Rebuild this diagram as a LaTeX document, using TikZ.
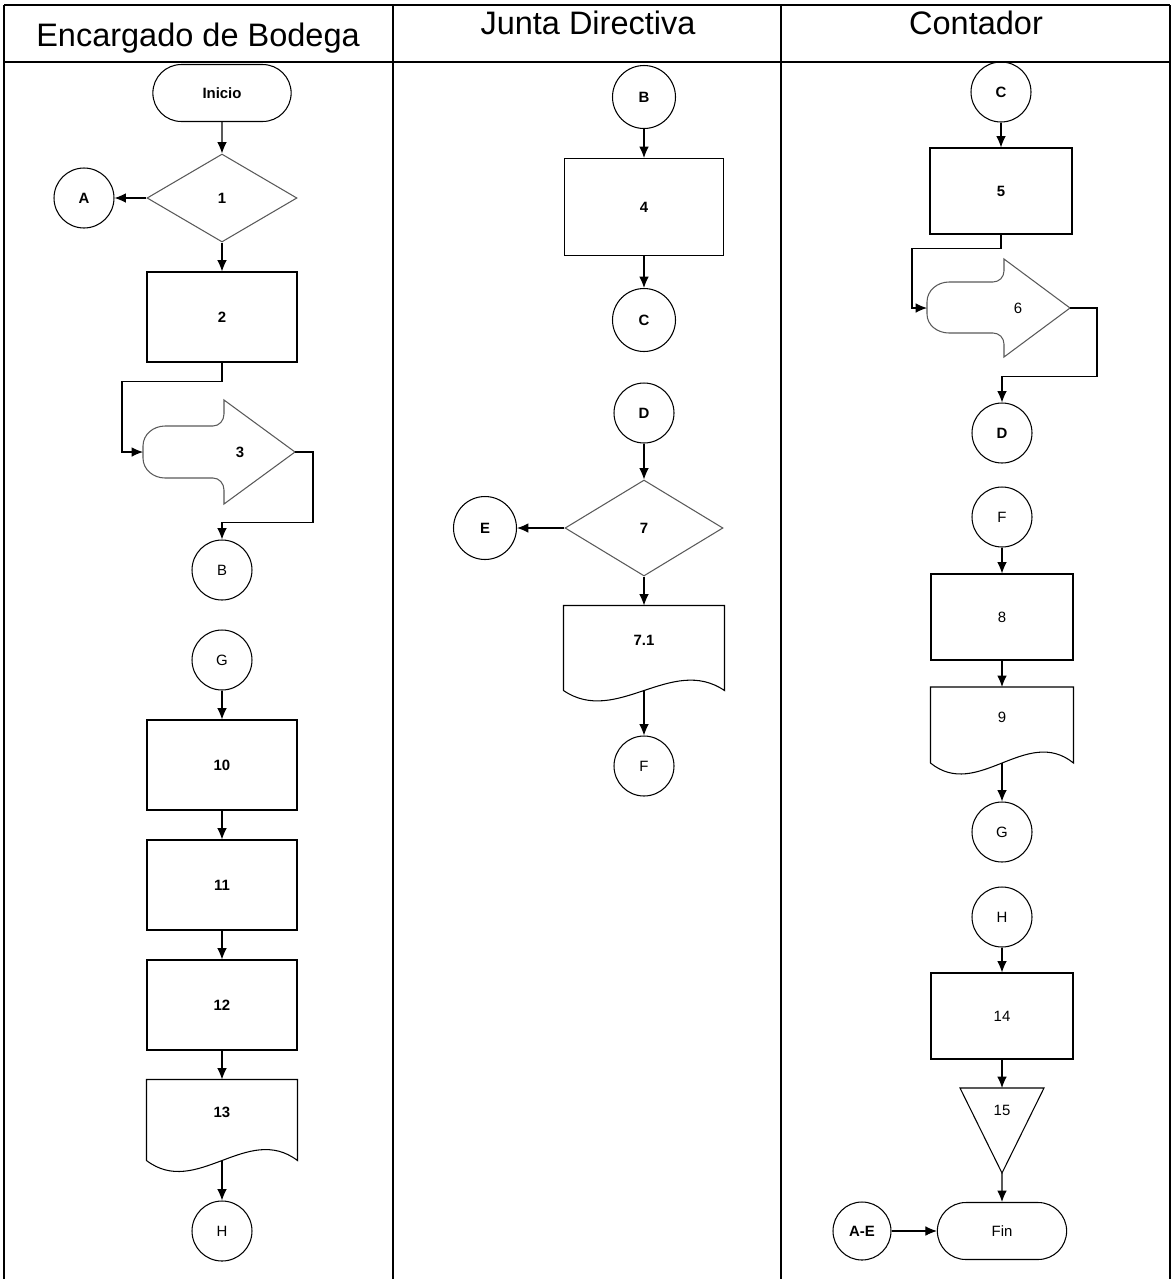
\documentclass[tikz,border=0pt]{standalone}
\usepackage{fontspec}
\setmainfont{Liberation Sans}
\usetikzlibrary{shapes.geometric,shapes.misc,arrows.meta,calc}

\begin{document}
\begin{tikzpicture}[x=0.02cm, y=-0.02cm, font=\fontsize{8.5}{10}\selectfont\bfseries,
          >={Latex[length=6.5pt,width=5.5pt]}, line width=0.6pt,
          lane/.style={line width=1.1pt},
          hdr/.style={font=\fontsize{18.5}{22}\selectfont, anchor=base},
          lt/.style={font=\fontsize{8.5}{10}\selectfont},
          con/.style={draw, circle, minimum size=1.2cm, inner sep=0pt},
          term/.style={draw, rounded rectangle, minimum width=3cm, minimum height=1.14cm},
          proc/.style={draw, minimum width=3cm, minimum height=1.8cm},
          procc/.style={draw, minimum width=2.84cm, minimum height=1.72cm},
          dec/.style={draw=black!65, diamond, minimum width=3cm, minimum height=1.76cm, inner sep=0pt},
          doc/.style={minimum width=3cm, minimum height=1.6cm, text depth=0.3cm},
          shp/.style={draw=black!65}]
        \useasboundingbox (0,0) rectangle (1174,1279);

        % swimlanes
        \draw[lane] (4,5) -- (1170,5) (4,62) -- (1170,62);
        \draw[lane] (4,5) -- (4,1279) (393,5) -- (393,1279) (781,5) -- (781,1279) (1170,5) -- (1170,1279);
        \node[hdr] (hbod) at (198,46) {Encargado de Bodega};
        \node[hdr] (hjun) at (588,34) {Junta Directiva};
        \node[hdr] (hcon) at (976,34) {Contador};

        % Encargado de Bodega
        \node[term] (ini) at (222,93) {Inicio};
        \node[dec] (d1) at (222,198) {1};
        \node[con] (a1) at (84,198) {A};
        \node[proc] (r2) at (222,317) {2};
        \node (t3) at (240,452) {3};
        \coordinate (t3in) at (143,452);
        \coordinate (t3out) at (295,452);
        \draw[shp] (143,452) -- (143,446) to[out=90,in=180] (165,426) -- (213,426) to[out=0,in=-90] (224,414)
          -- (224,400) -- (295,452) -- (224,504) -- (224,490) to[out=90,in=0] (213,478) -- (165,478)
          to[out=180,in=-90] (143,458) -- cycle;
        \node[con, lt] (b1) at (222,570) {B};
        \node[con, lt] (g1) at (222,660) {G};
        \node[proc] (r10) at (222,765) {10};
        \node[proc] (r11) at (222,885) {11};
        \node[proc] (r12) at (222,1005) {12};
        \node[doc] (t13) at (222,1120) {13};
        \draw (t13.south west) -- (t13.north west) -- (t13.north east) -- (t13.south east)
          .. controls ($(t13.south east)+(-50,-38)$) and ($(t13.south west)+(50,38)$) .. (t13.south west);
        \node[con, lt] (h1) at (222,1231) {H};

        \draw[->] (ini) -- (d1);
        \draw[->] (d1.west) -- (a1);
        \draw[->] (d1) -- (r2);
        \draw[->] (r2.south) -- ++(0,19) -| ($(t3in)+(-21,0)$) -- (t3in);
        \draw[->] (t3out) -- ++(18,0) |- ($(b1.north)+(0,-17)$) -- (b1.north);
        \draw[->] (g1) -- (r10);
        \draw[->] (r10) -- (r11);
        \draw[->] (r11) -- (r12);
        \draw[->] (r12.south) -- (t13.north);
        \draw[->] (t13.south) -- (h1);

        % Junta Directiva
        \node[con, minimum size=1.26cm] (b2) at (644,97) {B};
        \node[proc, minimum width=3.18cm, minimum height=1.94cm] (r4) at (644,207) {4};
        \node[con, minimum size=1.26cm] (c2) at (644,320) {C};
        \node[con] (d2) at (644,413) {D};
        \node[dec, minimum width=3.16cm, minimum height=1.92cm] (d7) at (644,528) {7};
        \node[con, minimum size=1.26cm] (e2) at (485,528) {E};
        \node[doc, minimum width=3.2cm, minimum height=1.68cm] (t71) at (644,648) {7.1};
        \draw (t71.south west) -- (t71.north west) -- (t71.north east) -- (t71.south east)
          .. controls ($(t71.south east)+(-53,-36)$) and ($(t71.south west)+(53,36)$) .. (t71.south west);
        \node[con, lt] (f2) at (644,766) {F};

        \draw[->] (b2) -- (r4);
        \draw[->] (r4) -- (c2);
        \draw[->] (d2) -- (d7);
        \draw[->] (d7.west) -- (e2);
        \draw[->] (d7) -- (t71.north);
        \draw[->] (t71.south) -- (f2);

        % Contador
        \node[con] (c3) at (1001,92) {C};
        \node[procc] (r5) at (1001,191) {5};
        \node[lt] (t6) at (1018,308) {6};
        \coordinate (t6in) at (927,308);
        \coordinate (t6out) at (1070,308);
        \draw[shp] (927,308) -- (927,302) to[out=90,in=180] (949,282) -- (993,282) to[out=0,in=-90] (1004,271)
          -- (1004,259) -- (1070,308) -- (1004,357) -- (1004,344) to[out=90,in=0] (993,333) -- (949,333)
          to[out=180,in=-90] (927,314) -- cycle;
        \node[con] (d3) at (1002,433) {D};
        \node[con, lt] (f3) at (1002,517) {F};
        \node[procc, lt] (r8) at (1002,617) {8};
        \node[doc, lt, minimum width=2.84cm, minimum height=1.5cm] (t9) at (1002,725) {9};
        \draw (t9.south west) -- (t9.north west) -- (t9.north east) -- (t9.south east)
          .. controls ($(t9.south east)+(-47,-38)$) and ($(t9.south west)+(47,38)$) .. (t9.south west);
        \node[con, lt] (g3) at (1002,832) {G};
        \node[con, lt] (h3) at (1002,917) {H};
        \node[procc, lt] (r14) at (1002,1016) {14};
        \node[lt] (t15) at (1002,1110) {15};
        \coordinate (tri15top) at (1002,1088);
        \coordinate (tri15bot) at (1002,1173);
        \draw (960,1088) -- (1044,1088) -- (tri15bot) -- cycle;
        \node[term, lt, minimum width=2.82cm] (fin) at (1002,1231) {Fin};
        \node[con, minimum size=1.16cm] (ae) at (862,1231) {A-E};

        \draw[->] (c3) -- (r5);
        \draw[->] (r5.south) -- ++(0,14) -| ($(t6in)+(-15,0)$) -- (t6in);
        \draw[->] (t6out) -- ++(27,0) |- ($(d3.north)+(0,-26)$) -- (d3.north);
        \draw[->] (f3) -- (r8);
        \draw[->] (r8) -- (t9.north);
        \draw[->] (t9.south) -- (g3);
        \draw[->] (h3) -- (r14);
        \draw[->] (r14.south) -- (tri15top);
        \draw[->] (tri15bot) -- (fin);
        \draw[->] (ae) -- (fin);
      \end{tikzpicture}
\end{document}
